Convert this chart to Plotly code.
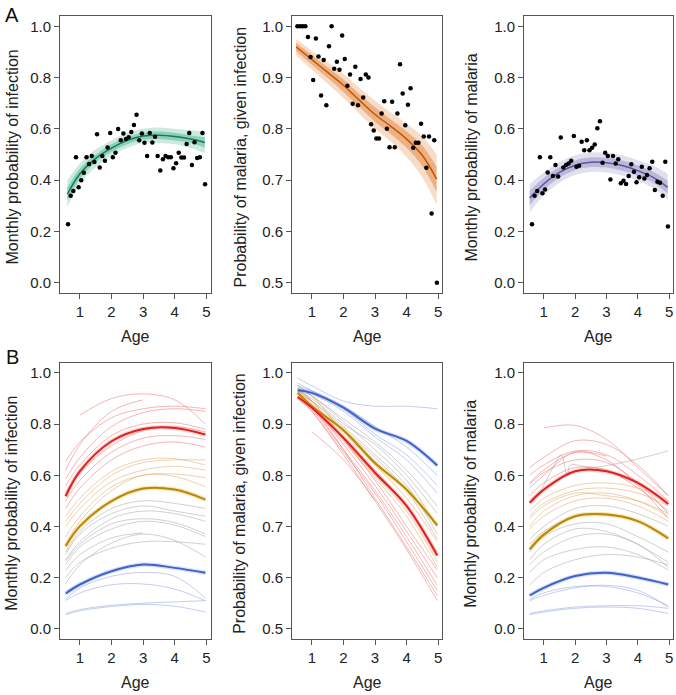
import plotly.graph_objects as go

W, H = 676, 695

# ---------------- Panel A data ----------------
months_a1 = [7.5, 8.5, 9.5, 10.5, 11.5, 12.5, 13.5, 14.5, 15.5, 16.5, 17.5, 18.5, 19.5, 20.5,
             21.5, 22.5, 23.5, 24.5, 25.5, 26.5, 27.5, 28.5, 29.5, 30.5, 31.5, 32.5, 33.5,
             34.5, 35.5, 36.5, 37.5, 38.5, 39.5, 40.5, 41.5, 42.5, 43.5, 44.5, 45.5, 46.5,
             47.5, 48.5, 49.5, 50.5, 51.5, 52.5, 53.5, 54.5, 55.5, 56.5, 57.5, 58.5, 59.5]
months_a2 = [6.5] + months_a1

obs_infection = [0.228, 0.339, 0.358, 0.489, 0.372, 0.400, 0.429, 0.489, 0.463, 0.494,
                 0.471, 0.579, 0.449, 0.494, 0.476, 0.527, 0.584, 0.489, 0.507, 0.599,
                 0.556, 0.582, 0.560, 0.567, 0.588, 0.615, 0.655, 0.556, 0.582, 0.546,
                 0.494, 0.584, 0.547, 0.569, 0.494, 0.438, 0.481, 0.494, 0.489, 0.489,
                 0.446, 0.466, 0.507, 0.488, 0.488, 0.541, 0.584, 0.459, 0.548, 0.486,
                 0.489, 0.584, 0.384]
obs_malaria_given_inf = [1.0, 1.0, 1.0, 1.0, 0.979, 0.940, 0.895, 0.976, 0.941, 0.865,
                         0.934, 0.846, 0.961, 1.0, 0.917, 0.931, 0.915, 0.982, 0.936, 0.884,
                         0.906, 0.849, 0.921, 0.846, 0.897, 0.861, 0.906, 0.900, 0.809, 0.797,
                         0.781, 0.781, 0.830, 0.854, 0.800, 0.764, 0.853, 0.764, 0.830, 0.926,
                         0.869, 0.807, 0.847, 0.879, 0.763, 0.773, 0.773, 0.810, 0.785, 0.724,
                         0.785, 0.635, 0.778, 0.500]
obs_malaria = [0.228, 0.339, 0.358, 0.489, 0.349, 0.364, 0.430, 0.489, 0.416, 0.459,
               0.414, 0.566, 0.449, 0.459, 0.465, 0.476, 0.572, 0.452, 0.456, 0.550,
               0.517, 0.556, 0.517, 0.526, 0.539, 0.602, 0.630, 0.468, 0.507, 0.494,
               0.403, 0.494, 0.465, 0.481, 0.388, 0.398, 0.385, 0.416, 0.462, 0.433,
               0.392, 0.411, 0.452, 0.406, 0.420, 0.446, 0.472, 0.362, 0.394, 0.390,
               0.339, 0.472, 0.219]

# fitted curves (mean and posterior envelope)
curve_age_a1 = [0.6, 1.0, 1.5, 2.0, 2.5, 3.0, 3.5, 4.0, 4.5, 4.95]
a1_mean = [0.345, 0.425, 0.485, 0.525, 0.555, 0.572, 0.575, 0.570, 0.560, 0.547]
a1_out_hi = [0.400, 0.465, 0.520, 0.555, 0.585, 0.600, 0.605, 0.600, 0.595, 0.590]
a1_out_lo = [0.295, 0.385, 0.450, 0.495, 0.525, 0.545, 0.545, 0.540, 0.525, 0.505]
a1_in_hi = [0.370, 0.445, 0.500, 0.540, 0.568, 0.585, 0.590, 0.585, 0.575, 0.567]
a1_in_lo = [0.320, 0.405, 0.470, 0.510, 0.540, 0.558, 0.560, 0.555, 0.545, 0.527]

curve_age_a2 = [0.5, 1.0, 1.5, 2.0, 2.5, 3.0, 3.5, 4.0, 4.5, 4.95]
a2_mean = [0.960, 0.935, 0.910, 0.885, 0.856, 0.828, 0.805, 0.780, 0.748, 0.702]
a2_out_hi = [0.975, 0.952, 0.930, 0.907, 0.880, 0.855, 0.832, 0.810, 0.785, 0.750]
a2_out_lo = [0.943, 0.915, 0.888, 0.860, 0.830, 0.800, 0.775, 0.745, 0.705, 0.652]
a2_in_hi = [0.968, 0.944, 0.920, 0.896, 0.868, 0.842, 0.818, 0.795, 0.767, 0.726]
a2_in_lo = [0.952, 0.925, 0.899, 0.872, 0.843, 0.814, 0.790, 0.763, 0.727, 0.677]

curve_age_a3 = [0.55, 1.0, 1.5, 2.0, 2.5, 3.0, 3.5, 4.0, 4.5, 4.95]
a3_mean = [0.330, 0.385, 0.430, 0.458, 0.470, 0.468, 0.457, 0.437, 0.410, 0.372]
a3_out_hi = [0.385, 0.430, 0.470, 0.497, 0.508, 0.507, 0.497, 0.478, 0.455, 0.425]
a3_out_lo = [0.275, 0.340, 0.390, 0.420, 0.432, 0.430, 0.418, 0.398, 0.368, 0.325]
a3_in_hi = [0.358, 0.408, 0.450, 0.477, 0.489, 0.487, 0.477, 0.457, 0.432, 0.398]
a3_in_lo = [0.303, 0.362, 0.410, 0.439, 0.451, 0.449, 0.437, 0.417, 0.389, 0.348]

# ---------------- Panel B data ----------------
b_age = [0.55, 1.0, 2.0, 3.0, 4.0, 4.97]

b1_red = [0.518, 0.616, 0.733, 0.781, 0.785, 0.759]
b1_gold = [0.323, 0.401, 0.499, 0.548, 0.544, 0.505]
b1_blue = [0.138, 0.173, 0.225, 0.251, 0.238, 0.219]
b1_thin = [
    ("r", [None, 0.835, 0.900, 0.918, 0.895, 0.800]),
    ("r", [0.620, 0.720, 0.850, 0.895, None, None]),
    ("r", [0.655, 0.730, 0.825, 0.860, 0.870, 0.860]),
    ("r", [0.585, 0.670, 0.790, 0.845, 0.860, 0.850]),
    ("r", [0.560, 0.640, 0.755, 0.800, 0.805, 0.780]),
    ("r", [0.530, 0.610, 0.715, 0.775, 0.790, 0.770]),
    ("r", [0.500, 0.580, 0.690, 0.745, 0.755, 0.740]),
    ("r", [0.470, 0.550, 0.660, 0.715, 0.730, 0.710]),
    ("o", [0.440, 0.510, 0.615, 0.660, 0.665, 0.640]),
    ("o", [0.420, 0.490, 0.600, 0.650, 0.660, 0.660]),
    ("o", [0.400, 0.470, 0.575, 0.620, 0.635, 0.620]),
    ("o", [0.360, 0.440, 0.555, 0.600, 0.605, 0.590]),
    ("o", [0.330, 0.420, 0.540, 0.600, 0.595, 0.555]),
    ("g", [0.300, 0.380, 0.470, 0.500, 0.490, 0.470]),
    ("g", [0.290, 0.370, 0.450, 0.480, 0.460, 0.440]),
    ("g", [0.270, 0.340, 0.430, 0.460, 0.450, 0.420]),
    ("g", [0.265, 0.330, 0.410, 0.430, 0.415, 0.370]),
    ("g", [0.250, 0.320, 0.390, 0.420, 0.405, 0.360]),
    ("g", [0.230, 0.290, 0.355, 0.375, None, None]),
    ("g", [0.200, 0.260, 0.315, 0.340, 0.340, 0.330]),
    ("g", [0.175, 0.250, 0.335, 0.370, 0.345, 0.280]),
    ("b", [0.115, 0.160, 0.205, 0.220, 0.205, 0.120]),
    ("b", [0.110, 0.140, 0.172, 0.175, 0.155, 0.110]),
    ("b", [0.060, 0.075, 0.092, 0.100, 0.105, 0.110]),
    ("b", [0.055, 0.070, 0.087, 0.095, 0.088, 0.065]),
]

b2_red = [0.953, 0.932, 0.873, 0.805, 0.740, 0.643]
b2_gold = [0.961, 0.935, 0.888, 0.824, 0.772, 0.702]
b2_blue = [0.966, 0.961, 0.932, 0.891, 0.867, 0.819]
b2_thin = [
    ("b", [0.990, 0.975, 0.945, 0.935, 0.935, 0.930]),
    ("b", [0.975, 0.965, 0.935, 0.895, 0.855, 0.800]),
    ("b", [0.980, 0.965, 0.930, 0.880, 0.840, 0.780]),
    ("b", [0.970, 0.960, 0.925, 0.875, 0.830, 0.765]),
    ("g", [0.970, 0.955, 0.910, 0.865, 0.810, 0.740]),
    ("g", [0.965, 0.950, 0.900, 0.860, 0.800, 0.725]),
    ("g", [0.975, 0.955, 0.905, 0.850, 0.790, 0.700]),
    ("g", [0.960, 0.945, 0.895, 0.840, 0.780, 0.685]),
    ("g", [0.965, 0.945, 0.890, 0.835, 0.770, 0.675]),
    ("o", [0.975, 0.955, 0.885, 0.820, 0.755, 0.670]),
    ("o", [0.970, 0.945, 0.875, 0.810, 0.740, 0.650]),
    ("o", [0.965, 0.940, 0.870, 0.800, 0.730, 0.630]),
    ("o", [0.960, 0.935, 0.865, 0.795, 0.720, 0.620]),
    ("r", [0.970, 0.945, 0.870, 0.790, 0.700, 0.615]),
    ("r", [0.960, 0.935, 0.860, 0.780, 0.690, 0.600]),
    ("r", [0.955, 0.930, 0.850, 0.770, 0.680, 0.585]),
    ("r", [0.950, 0.925, 0.845, 0.765, 0.670, 0.575]),
    ("r", [0.965, 0.935, 0.850, 0.755, 0.660, 0.565]),
    ("r", [0.955, 0.925, 0.840, 0.750, 0.655, 0.555]),
    ("r", [None, 0.885, 0.830, 0.750, None, None]),
]

b3_red = [0.492, 0.544, 0.616, 0.616, 0.570, 0.488]
b3_gold = [0.310, 0.368, 0.440, 0.447, 0.421, 0.353]
b3_blue = [0.130, 0.160, 0.206, 0.219, 0.200, 0.173]
b3_thin = [
    ("r", [None, 0.785, 0.795, 0.740, 0.630, 0.520]),
    ("r", [0.630, 0.670, 0.735, 0.720, 0.640, 0.520]),
    ("r", [0.570, 0.620, 0.690, 0.675, None, None]),
    ("r", [0.600, 0.640, 0.695, 0.680, 0.600, 0.500]),
    ("r", [0.565, 0.610, 0.660, 0.650, 0.570, 0.450]),
    ("r", [0.550, 0.600, 0.690, 0.660, 0.560, 0.430]),
    ("r", [0.520, 0.570, 0.630, 0.620, 0.550, 0.460]),
    ("o", [0.460, 0.510, 0.560, 0.570, 0.550, 0.500]),
    ("o", [0.440, 0.490, 0.540, 0.550, 0.530, 0.480]),
    ("o", [0.430, 0.480, 0.530, 0.520, 0.500, 0.450]),
    ("o", [0.400, 0.460, 0.520, 0.530, 0.500, 0.440]),
    ("o", [0.390, 0.440, 0.500, 0.510, 0.480, 0.420]),
    ("g", [0.350, 0.400, 0.470, 0.480, 0.450, 0.400]),
    ("g", [0.330, 0.380, 0.440, 0.450, 0.420, 0.360]),
    ("g", [0.300, 0.360, 0.410, 0.410, 0.360, 0.300]),
    ("g", [0.270, 0.330, 0.390, 0.380, 0.330, 0.260]),
    ("g", [0.250, 0.300, 0.360, 0.370, 0.330, 0.240]),
    ("g", [0.220, 0.270, 0.310, 0.320, 0.290, 0.230]),
    ("g", [0.170, 0.220, 0.270, 0.290, 0.280, 0.250]),
    ("b", [0.115, 0.140, 0.165, 0.165, 0.140, 0.090]),
    ("b", [0.110, 0.130, 0.160, 0.170, 0.150, 0.085]),
    ("b", [0.060, 0.070, 0.085, 0.090, 0.090, 0.080]),
    ("b", [0.055, 0.065, 0.080, 0.085, 0.080, 0.060]),
]
b3_odd_age = [0.95, 1.3, 1.55, 1.75, 1.85, 2.5, 3.5, 4.97]
b3_odd_val = [0.550, 0.630, 0.680, 0.600, 0.640, 0.630, 0.650, 0.695]

# ---------------- styling ----------------
FONT = "Liberation Sans, Arial, Helvetica, sans-serif"
FRAME = "#555555"
thin_col = {"r": "rgba(238,90,90,0.50)", "o": "rgba(222,160,90,0.55)",
            "g": "rgba(150,150,150,0.50)", "b": "rgba(125,145,220,0.50)"}
RED, GOLD, BLUE = "#e01f1f", "#b8860b", "#3d63c8"
HALO = {RED: "rgba(235,80,70,0.25)", GOLD: "rgba(235,205,90,0.45)", BLUE: "rgba(100,130,225,0.25)"}

def px_x(p):
    return p / W

def px_y(p):
    return 1 - p / H

cols = [(60, 210.5), (292, 442.3), (524, 673.3)]
rows = [(16, 293), (362.7, 639)]

fig = go.Figure()

def axname(i):
    return ("x" if i == 1 else f"x{i}"), ("y" if i == 1 else f"y{i}")

def line(i, x, y, color, width, shape="spline"):
    xa, ya = axname(i)
    fig.add_trace(go.Scatter(x=x, y=y, mode="lines", xaxis=xa, yaxis=ya,
                             line=dict(color=color, width=width, shape=shape, smoothing=1.0),
                             hoverinfo="skip", showlegend=False))

def band(i, x, lo, hi, fillcolor):
    xa, ya = axname(i)
    fig.add_trace(go.Scatter(x=x, y=lo, mode="lines", xaxis=xa, yaxis=ya,
                             line=dict(width=0, shape="spline"), hoverinfo="skip", showlegend=False))
    fig.add_trace(go.Scatter(x=x, y=hi, mode="lines", xaxis=xa, yaxis=ya, fill="tonexty",
                             fillcolor=fillcolor, line=dict(width=0, shape="spline"),
                             hoverinfo="skip", showlegend=False))

def points(i, x, y):
    xa, ya = axname(i)
    fig.add_trace(go.Scatter(x=x, y=y, mode="markers", xaxis=xa, yaxis=ya,
                             marker=dict(color="black", size=4.5), hoverinfo="skip", showlegend=False))

ages_a1 = [m / 12 for m in months_a1]
ages_a2 = [m / 12 for m in months_a2]

# Panel A
for i, (cx, lo_o, hi_o, lo_i, hi_i, mean, rgb, dark) in enumerate([
        (curve_age_a1, a1_out_lo, a1_out_hi, a1_in_lo, a1_in_hi, a1_mean, "27,158,119", "#137a5c"),
        (curve_age_a2, a2_out_lo, a2_out_hi, a2_in_lo, a2_in_hi, a2_mean, "217,95,2", "#c45500"),
        (curve_age_a3, a3_out_lo, a3_out_hi, a3_in_lo, a3_in_hi, a3_mean, "117,112,179", "#5a55a0")], start=1):
    band(i, cx, lo_o, hi_o, f"rgba({rgb},0.22)")
    band(i, cx, lo_i, hi_i, f"rgba({rgb},0.35)")
    line(i, cx, mean, dark, 1.5)

points(1, ages_a1, obs_infection)
points(2, ages_a2, obs_malaria_given_inf)
points(3, ages_a1, obs_malaria)

# Panel B
for i, thin, red, gold, blue in [(4, b1_thin, b1_red, b1_gold, b1_blue),
                                 (5, b2_thin, b2_red, b2_gold, b2_blue),
                                 (6, b3_thin, b3_red, b3_gold, b3_blue)]:
    for cat, vals in thin:
        line(i, b_age, vals, thin_col[cat], 0.9)
    if i == 6:
        line(i, b3_odd_age, b3_odd_val, thin_col["g"], 0.9)
    for vals, c in [(gold, GOLD), (red, RED), (blue, BLUE)]:
        line(i, b_age, vals, HALO[c], 4.5)
        line(i, b_age, vals, c, 2.0)

layout = dict(width=W, height=H, margin=dict(l=0, r=0, t=0, b=0),
              paper_bgcolor="white", plot_bgcolor="white",
              font=dict(family=FONT, size=15, color="#222222"))

for r, (top, bot) in enumerate(rows):
    for c, (lft, rgt) in enumerate(cols):
        i = r * 3 + c + 1
        xa = "xaxis" if i == 1 else f"xaxis{i}"
        ya = "yaxis" if i == 1 else f"yaxis{i}"
        xa_id, ya_id = axname(i)
        common = dict(showline=True, mirror=True, linecolor=FRAME, linewidth=1,
                      ticks="outside", ticklen=5, tickcolor=FRAME, tickwidth=1,
                      showgrid=False, zeroline=False, fixedrange=True,
                      tickfont=dict(family=FONT, size=15, color="#222222"))
        layout[xa] = dict(common, domain=[px_x(lft), px_x(rgt)], range=[0.37, 5.13],
                          tickvals=[1, 2, 3, 4, 5], anchor=ya_id)
        if c == 1:
            yr, tv = [0.48, 1.02], [0.5, 0.6, 0.7, 0.8, 0.9, 1.0]
        else:
            yr, tv = [-0.04, 1.04], [0.0, 0.2, 0.4, 0.6, 0.8, 1.0]
        layout[ya] = dict(common, domain=[px_y(bot), px_y(top)], range=yr,
                          tickvals=tv, tickformat=".1f", anchor=xa_id)

fig.update_layout(**layout)

ytitles = ["Monthly probability of infection", "Probability of malaria, given infection",
           "Monthly probability of malaria"]
ytitle_x = [12, 240, 471]
annotations = []
for r, (top, bot) in enumerate(rows):
    for c, (lft, rgt) in enumerate(cols):
        annotations.append(dict(text=ytitles[c], x=px_x(ytitle_x[c]), y=px_y((top + bot) / 2 + 3),
                                xref="paper", yref="paper", showarrow=False, textangle=-90,
                                font=dict(family=FONT, size=16, color="#222222"),
                                xanchor="center", yanchor="middle"))
        annotations.append(dict(text="Age", x=px_x((lft + rgt) / 2), y=px_y(bot + 43),
                                xref="paper", yref="paper", showarrow=False,
                                font=dict(family=FONT, size=16, color="#222222"),
                                xanchor="center", yanchor="middle"))
annotations.append(dict(text="A", x=px_x(12), y=px_y(15), xref="paper", yref="paper",
                        showarrow=False, font=dict(family=FONT, size=20, color="#111111"),
                        xanchor="center", yanchor="middle"))
annotations.append(dict(text="B", x=px_x(12), y=px_y(357), xref="paper", yref="paper",
                        showarrow=False, font=dict(family=FONT, size=20, color="#111111"),
                        xanchor="center", yanchor="middle"))
fig.update_layout(annotations=annotations)

fig.write_html("out.html", config={"displayModeBar": False},
               post_script="document.body.style.margin='0px';document.body.style.padding='0px';")
